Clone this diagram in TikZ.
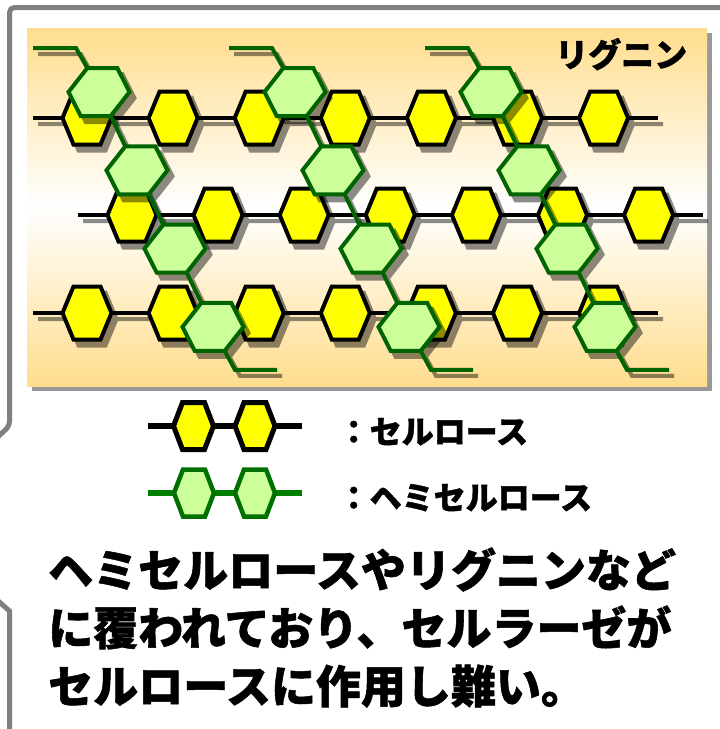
\documentclass[tikz,border=0pt]{standalone}
\usepackage{fontspec}
\usetikzlibrary{calc}
\newfontfamily\jp{Noto Sans CJK JP}[BoldFeatures={FakeBold=1.2}]
\definecolor{peach}{RGB}{255,221,142}
\definecolor{celluyellow}{RGB}{255,255,0}
\definecolor{hemifill}{RGB}{204,255,153}
\definecolor{hemiline}{RGB}{0,100,0}
\definecolor{legendline}{RGB}{0,128,0}
\definecolor{legendedge}{RGB}{0,112,0}
\definecolor{framegray}{RGB}{128,128,128}

% cellulose chains: three rows of yellow rings on a backbone
\newcommand\celllayer{%
  \foreach \r in {1,2,3}{%
    \draw[cline] (row\r-s) -- (row\r-e);
    \foreach \i in {0,...,6}{\pic[cellu] at (cel\r-\i) {yhex};}
  }}
% hemicellulose chains: three diagonal strands of green rings
\newcommand\hemilayer{%
  \foreach \c in {A,B,C}{%
    \draw[hline] (hem\c-a) -- (hem\c-b) -- (hem\c1-tl)
      (hem\c1-br) -- (hem\c2-tl) (hem\c2-br) -- (hem\c3-tl)
      (hem\c3-br) -- (hem\c4-tl) (hem\c4-br) -- (hem\c-y) -- (hem\c-z);
    \foreach \j in {1,...,4}{\pic[hemi] at (hem\c\j) {ghex};}
  }}

\begin{document}
\begin{tikzpicture}[x=1pt,y=-1pt,line join=miter,
  yhex/.pic={\path[pic actions] (-24.5,0) -- (-13.5,-26.5) -- (13.5,-26.5)
     -- (24.5,0) -- (13.5,26.5) -- (-13.5,26.5) -- cycle;},
  ghex/.pic={\path[pic actions] (-30.5,0) -- (-11.7,-24) -- (18.3,-24)
     -- (30.5,0) -- (11.7,24) -- (-18.3,24) -- cycle;},
  lhex/.pic={\path[pic actions] (-20,0) -- (-11,-23.5) -- (11,-23.5)
     -- (20,0) -- (11,23.5) -- (-11,23.5) -- cycle;},
  cline/.style={draw=black,line width=4pt},
  cellu/.style={draw=black,fill=celluyellow,line width=4pt},
  hline/.style={draw=hemiline,line width=4pt},
  hemi/.style={draw=hemiline,fill=hemifill,line width=4pt},
  shadowgrp/.style={transparency group,opacity=.45},
  jtext/.style={anchor=base west,inner sep=0pt,font=\jp\bfseries\fontsize{#1}{#1}\selectfont},
]
\useasboundingbox (0,0) rectangle (720,729);
\clip (0,0) rectangle (720,729);

% callout frame
\draw[framegray,line width=5pt,rounded corners=5pt]
  (740,7.5) -- (9.5,7.5) -- (9.5,426) -- (-12,446);
\draw[framegray,line width=5pt] (-12,592) -- (9.5,611) -- (9.5,740);

% panel with drop shadow
\fill[black,opacity=.4] (32,33) rectangle (712,391);
\shade[top color=peach,bottom color=peach,middle color=white]
  (27,28) rectangle (707,386);

% positions of the cellulose rows
\foreach \r/\y/\xa/\xs/\xe in {1/118/87/33/658,2/215/132/78/703,3/313/87/33/658}{
  \coordinate (row\r-s) at (\xs,\y);
  \coordinate (row\r-e) at (\xe,\y);
  \foreach \i in {0,...,6}{\coordinate (cel\r-\i) at (\xa+86.1*\i,\y);}
}
% positions of the hemicellulose strands
\foreach \c/\xa in {A/99,B/295,C/491}{
  \foreach \j in {1,...,4}{
    \coordinate (hem\c\j) at (\xa+38*\j-38,92+78.3*\j-78.3);
    \coordinate (hem\c\j-tl) at ($(hem\c\j)+(-11.7,-24)$);
    \coordinate (hem\c\j-br) at ($(hem\c\j)+(11.7,24)$);
  }
  \coordinate (hem\c-a) at (\xa-66,48);
  \coordinate (hem\c-b) at (\xa-23,48);
  \coordinate (hem\c-y) at ($(hem\c4)+(22,43)$);
  \coordinate (hem\c-z) at ($(hem\c4)+(64,43)$);
}

% cellulose: shadow, then rings
\begin{scope}[shadowgrp]
  \path (0,0) rectangle (720,729);
  \begin{scope}[transform canvas={shift={(5,6)}},
      cline/.style={draw=black,line width=4pt},
      cellu/.style={draw=black,fill=black,line width=4pt}]
    \celllayer
  \end{scope}
\end{scope}
\celllayer

% hemicellulose: shadow, then rings
\begin{scope}[shadowgrp]
  \path (0,0) rectangle (720,729);
  \begin{scope}[transform canvas={shift={(5,6)}},
      hline/.style={draw=black,line width=4pt},
      hemi/.style={draw=black,fill=black,line width=4pt}]
    \hemilayer
  \end{scope}
\end{scope}
\hemilayer

\node[jtext=33] (lignin) at (555,67) {リグニン};

% legend
\coordinate (lc-s) at (148,426); \coordinate (lc-e) at (302,426);
\coordinate (lc1) at (193.5,426); \coordinate (lc2) at (255,426);
\draw[line width=6pt] (lc-s) -- (lc-e);
\pic[draw=black,fill=celluyellow,line width=5pt] at (lc1) {lhex};
\pic[draw=black,fill=celluyellow,line width=5pt] at (lc2) {lhex};
\node[jtext=32] (lgc) at (337.5,443.5) {：セルロース};

\coordinate (lh-s) at (148,493); \coordinate (lh-e) at (302,493);
\coordinate (lh1) at (194,493); \coordinate (lh2) at (255,493);
\draw[legendline,line width=5.5pt] (lh-s) -- (lh-e);
\pic[draw=legendedge,fill=hemifill,line width=4.5pt] at (lh1) {lhex};
\pic[draw=legendedge,fill=hemifill,line width=4.5pt] at (lh2) {lhex};
\node[jtext=32] (lgh) at (337.5,509.5) {：ヘミセルロース};

% statement
\node[jtext=45] (t1) at (48,587) {ヘミセルロースやリグニンなど};
\node[jtext=45] (t2) at (48,645) {に覆われており、セルラーゼが};
\node[jtext=45] (t3) at (48,703) {セルロースに作用し難い。};
\end{tikzpicture}
\end{document}
